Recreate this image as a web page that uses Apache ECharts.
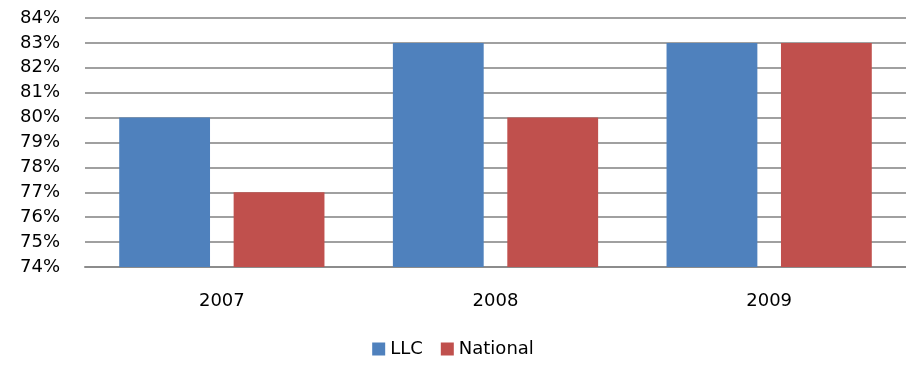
<!DOCTYPE html>
<html>
<head>
<meta charset="utf-8">
<script src="https://cdn.jsdelivr.net/npm/echarts@6/dist/echarts.min.js"></script>
<style>
  html, body { margin: 0; padding: 0; background: #fff; }
  #chart { width: 906px; height: 366px; }
</style>
</head>
<body>
<div id="chart"></div>
<script>
var years = ['2007', '2008', '2009'];
var llc = [80, 83, 83];
var national = [77, 80, 83];

var chart = echarts.init(document.getElementById('chart'));
var font = '"DejaVu Sans", Verdana, sans-serif';

var option = {
    animation: false,
    textStyle: { fontFamily: font },
    grid: { left: 85, top: 18, width: 831, height: 249 },
    legend: {
        bottom: 3,
        left: 'center',
        itemWidth: 13,
        itemHeight: 13,
        itemGap: 18,
        icon: 'rect',
        textStyle: { fontFamily: font, fontSize: 18, color: '#000' },
        data: ['LLC', 'National']
    },
    xAxis: {
        type: 'category',
        data: years,
        axisTick: { show: false },
        axisLine: { lineStyle: { color: '#8c8c8c', width: 2 } },
        axisLabel: { color: '#000', fontSize: 18, margin: 25, fontFamily: font }
    },
    yAxis: {
        type: 'value',
        min: 74,
        max: 84,
        interval: 1,
        axisLine: { show: false },
        axisTick: { show: false },
        axisLabel: {
            color: '#000', fontSize: 18, margin: 25, fontFamily: font,
            formatter: '{value}%'
        },
        splitLine: { lineStyle: { color: '#a0a0a0', width: 2 } }
    },
    series: [
        {
            name: 'LLC',
            type: 'bar',
            data: llc,
            barGap: '26%',
            barCategoryGap: '25%',
            itemStyle: { color: '#4F81BD' }
        },
        {
            name: 'National',
            type: 'bar',
            data: national,
            itemStyle: { color: '#C0504D' }
        }
    ]
};

chart.setOption(option);
</script>
</body>
</html>
